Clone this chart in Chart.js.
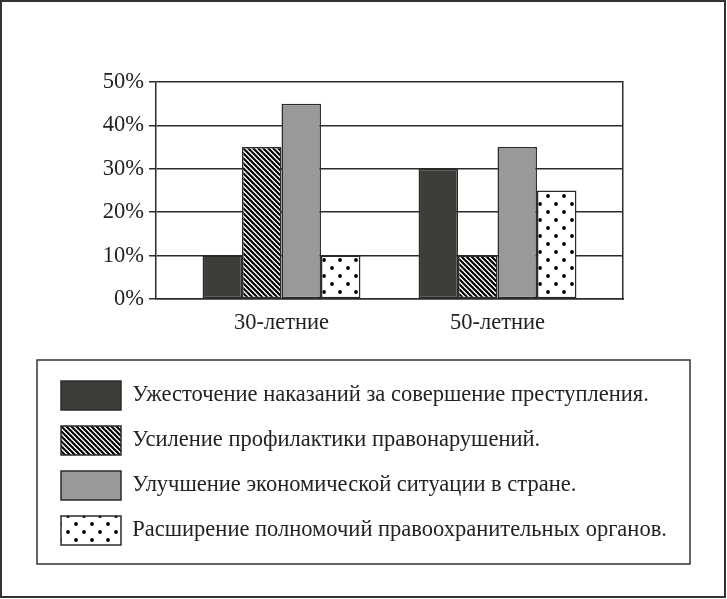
<!DOCTYPE html>
<html>
<head>
<meta charset="utf-8">
<script src="https://cdn.jsdelivr.net/npm/chart.js@4"></script>
<style>
  html, body { margin: 0; padding: 0; background: #fff; }
</style>
</head>
<body>
<canvas id="chart" width="727" height="599"></canvas>
<script>
// data
const categories = ['30-летние', '50-летние'];
const seriesNames = [
  'Ужесточение наказаний за совершение преступления.',
  'Усиление профилактики правонарушений.',
  'Улучшение экономической ситуации в стране.',
  'Расширение полномочий правоохранительных органов.'
];
const harsherPunishment = [10, 30];
const prevention = [35, 10];
const economy = [45, 35];
const policePowers = [10, 25];
const yTicks = [0, 10, 20, 30, 40, 50];

const ink = '#2b2b2b';
const serif = '"Liberation Serif", "Times New Roman", serif';
const fontSize = 22.5;

function makeTile(size, draw) {
  const c = document.createElement('canvas');
  c.width = size; c.height = size;
  const g = c.getContext('2d');
  g.fillStyle = '#fff';
  g.fillRect(0, 0, size, size);
  draw(g);
  return document.createElement('canvas').getContext('2d').createPattern(c, 'repeat');
}

const hatch = makeTile(5, g => {
  g.strokeStyle = '#000';
  g.lineWidth = 2.2;
  g.beginPath();
  g.moveTo(-1, -1); g.lineTo(6, 6);
  g.moveTo(4, -1); g.lineTo(6, 1);
  g.moveTo(-1, 4); g.lineTo(1, 6);
  g.stroke();
});

const dots = makeTile(16, g => {
  g.fillStyle = '#000';
  [[4, 4], [12, 12]].forEach(([x, y]) => {
    g.beginPath();
    g.arc(x, y, 1.9, 0, Math.PI * 2);
    g.fill();
  });
});

const toPoints = arr => arr.map((v, i) => ({ x: i + 1, y: v }));

const fills = ['#3d3d39', hatch, '#999999', dots];
const series = [harsherPunishment, prevention, economy, policePowers];

const framePlugin = {
  id: 'frames',
  beforeDraw(chart) {
    const ctx = chart.ctx;
    ctx.save();
    ctx.fillStyle = '#fff';
    ctx.fillRect(0, 0, chart.width, chart.height);
    ctx.restore();
  },
  afterDraw(chart) {
    const ctx = chart.ctx;
    const lg = chart.legend;
    ctx.save();
    ctx.strokeStyle = '#333';
    ctx.lineWidth = 2;
    ctx.strokeRect(1, 1, chart.width - 3, chart.height - 3);
    ctx.lineWidth = 1.5;
    ctx.strokeRect(lg.left - 8, lg.top - 5, lg.right - lg.left + 8, lg.bottom - lg.top + 14);
    ctx.restore();
  }
};

new Chart(document.getElementById('chart'), {
  type: 'bar',
  data: {
    datasets: series.map((vals, i) => ({
      label: seriesNames[i],
      data: toPoints(vals),
      backgroundColor: fills[i],
      borderColor: ink,
      borderWidth: 1.5,
      borderSkipped: false,
      categoryPercentage: 0.731,
      barPercentage: 1
    }))
  },
  options: {
    responsive: false,
    animation: false,
    layout: { padding: { top: 82, left: 45, right: 37, bottom: 44 } },
    scales: {
      x: {
        type: 'linear',
        offset: false,
        min: 0.419,
        max: 2.581,
        afterBuildTicks: s => { s.ticks = categories.map((c, i) => ({ value: i + 1 })); },
        afterFit: s => { s.height = 66; },
        grid: { display: false, drawTicks: false, offset: false },
        border: { display: true, color: ink, width: 1.5 },
        ticks: {
          callback: (v, i) => categories[i],
          padding: 11,
          color: '#222',
          font: { family: serif, size: fontSize }
        }
      },
      y: {
        min: 0,
        max: 50,
        afterBuildTicks: s => { s.ticks = yTicks.map(v => ({ value: v })); },
        afterFit: s => { s.width = 111; },
        grid: { color: ink, lineWidth: 1.5, tickLength: 7 },
        border: { display: true, color: ink, width: 1.5 },
        ticks: {
          callback: v => v + '%',
          padding: 5,
          color: '#222',
          font: { family: serif, size: fontSize }
        }
      },
      y2: {
        position: 'right',
        afterFit: s => { s.width = 67; },
        grid: { display: false },
        border: { display: true, color: ink, width: 1.5 },
        ticks: { display: false }
      }
    },
    plugins: {
      legend: {
        position: 'bottom',
        align: 'start',
        labels: {
          boxWidth: 60,
          boxHeight: 29,
          padding: 16,
          color: '#222',
          font: { family: serif, size: fontSize }
        }
      },
      tooltip: { enabled: false }
    }
  },
  plugins: [framePlugin]
});
</script>
</body>
</html>
